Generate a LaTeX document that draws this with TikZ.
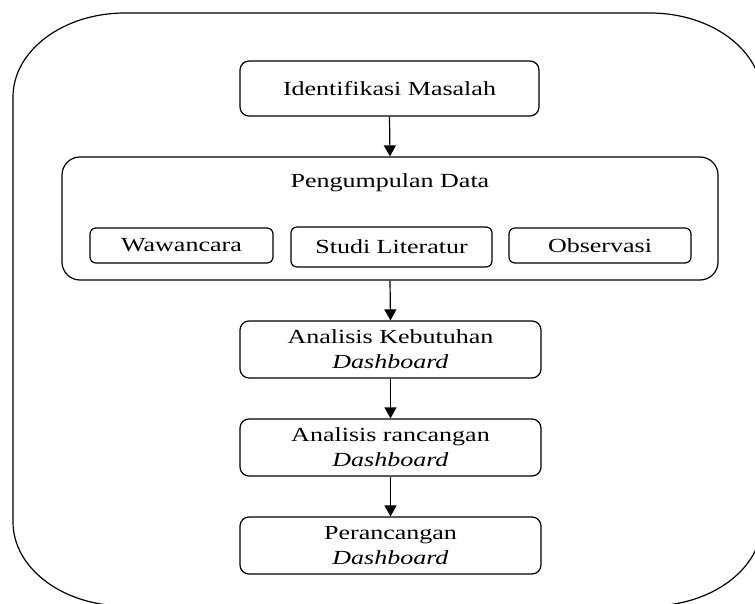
\documentclass[tikz,border=0pt]{standalone}
\usepackage{fontspec}
\setmainfont{Liberation Serif}[FakeStretch=1.3]
\usetikzlibrary{arrows.meta}

\begin{document}
\begin{tikzpicture}[x=0.5pt,y=-0.5pt,line width=0.6pt,
    font=\fontsize{10}{12.5}\selectfont,
    stepbox/.style={draw,rounded corners=4.5pt,minimum width=150.5pt,minimum height=28.5pt,align=center,inner sep=2pt},
    subbox/.style={draw,rounded corners=3pt,minimum height=17.5pt,inner sep=2pt},
    flow/.style={-{Triangle[length=5.5pt,width=6pt]}}]
        \useasboundingbox (0,0) rectangle (755,604);
        % outer frame
        \draw (13,521) -- (13,97) arc[start angle=180,end angle=90,x radius=56pt,y radius=42pt]
          -- (650,13) arc[start angle=90,end angle=0,x radius=56pt,y radius=42pt]
          -- (762,522) arc[start angle=0,end angle=-90,x radius=56pt,y radius=42pt]
          -- (125,606) arc[start angle=-90,end angle=-180,x radius=56pt,y radius=42pt] -- cycle;
        \node[stepbox,minimum width=149.5pt,minimum height=27.5pt] (ident) at (389.5,88.5) {Identifikasi Masalah};
        \node[draw,rounded corners=9pt,minimum width=328pt,minimum height=61.5pt] (kumpul) at (390,218.5) {};
        \node[anchor=base] (kumpultitle) at (390,188) {Pengumpulan Data};
        \node[subbox,minimum width=91.5pt] (wawancara) at (181.5,245.5) {Wawancara};
        \node[subbox,minimum width=100.5pt,minimum height=20pt] (studi) at (391.5,247) {Studi Literatur};
        \node[subbox,minimum width=91pt] (observasi) at (600,245.5) {Observasi};
        \node[stepbox] (kebutuhan)   at (390.5,349.5) {Analisis Kebutuhan\\\textit{Dashboard}};
        \node[stepbox] (rancangan)   at (390.5,447.5) {Analisis rancangan\\\textit{Dashboard}};
        \node[stepbox] (perancangan) at (390.5,545.5) {Perancangan\\\textit{Dashboard}};
        \draw[flow] (ident.south) -- (kumpul.north);
        \draw[flow] (kumpul.south) -- (kebutuhan.north);
        \draw[flow] (kebutuhan) -- (rancangan);
        \draw[flow] (rancangan) -- (perancangan);
\end{tikzpicture}
\end{document}
